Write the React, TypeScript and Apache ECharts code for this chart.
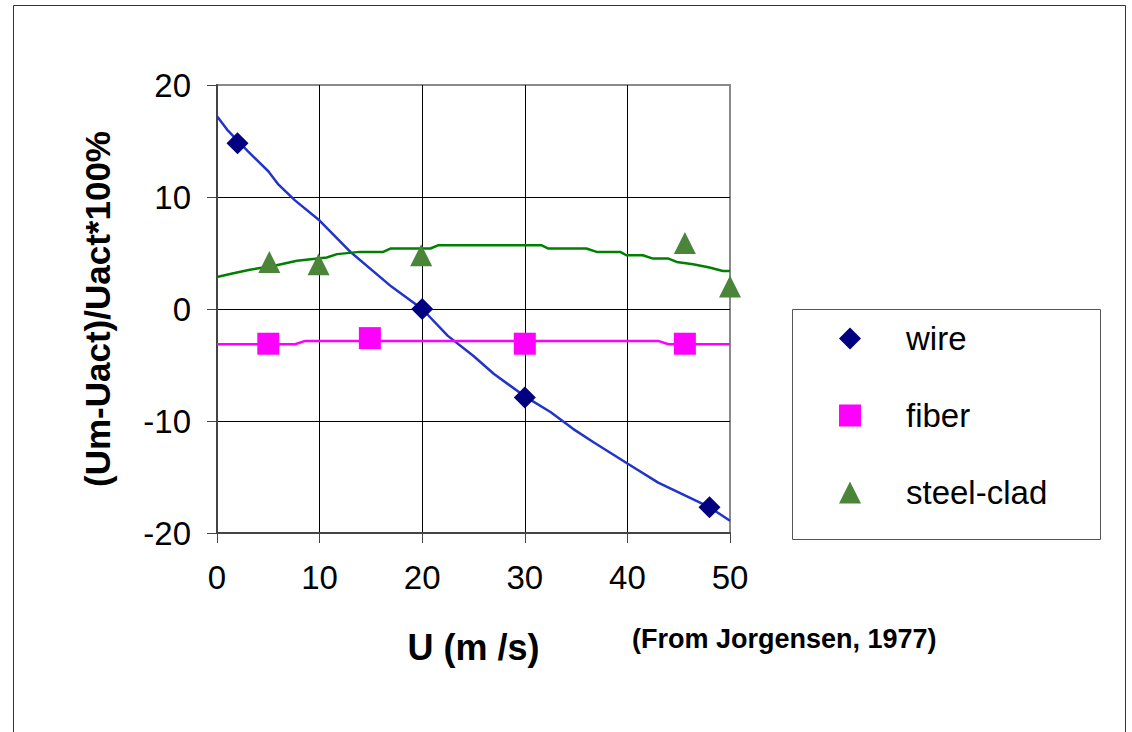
import React, { useEffect, useRef } from "react";
import * as echarts from "echarts";

// wire: measured points and fitted curve
const wirePoints: [number, number][] = [
  [2, 14.8],
  [20, 0],
  [30, -7.9],
  [48, -17.7],
];
const wireCurve: [number, number][] = [
  [0, 17.2], [1, 16.0], [3, 14.1], [5, 12.3], [6, 11.1], [7.6, 9.7],
  [10, 7.9], [13, 5.1], [17, 2.0], [20, 0], [22.5, -2.4], [25, -4.2],
  [27, -5.8], [30, -7.8], [32.5, -9.2], [34.7, -10.7], [36.7, -11.9],
  [40, -13.8], [43, -15.5], [45.5, -16.6], [48, -17.7], [50, -18.9],
];

// fiber: measured points and fitted curve
const fiberPoints: [number, number][] = [
  [5, -3.1],
  [14.9, -2.6],
  [30, -3.1],
  [45.6, -3.1],
];
const fiberCurve: [number, number][] = [
  [0, -3.15], [7.6, -3.15], [8.6, -2.85], [43, -2.85], [44, -3.15], [50, -3.15],
];

// steel-clad: measured points and fitted curve
const steelPoints: [number, number][] = [
  [5.1, 4.2],
  [9.9, 4.0],
  [19.9, 4.8],
  [45.6, 5.9],
  [50, 2.0],
];
const steelCurve: [number, number][] = [
  [0, 2.85], [1.6, 3.2], [3.2, 3.5], [5.8, 3.9], [7.8, 4.3], [10.7, 4.6],
  [11.7, 4.9], [13.9, 5.1], [16.2, 5.1], [16.9, 5.4], [20.8, 5.4], [21.6, 5.7],
  [31.6, 5.7], [32.3, 5.4], [36, 5.4], [37, 5.1], [39.3, 5.1], [39.9, 4.8],
  [41.5, 4.8], [42.5, 4.5], [44, 4.5], [44.8, 4.2], [46.4, 4.0], [48, 3.7],
  [49.3, 3.4], [50, 3.4],
];

const xTicks = { min: 0, max: 50, interval: 10 };
const yTicks = { min: -20, max: 20, interval: 10 };

const legendNames = ["wire", "fiber", "steel-clad"];

const FONT = 'Arial, "Liberation Sans", sans-serif';

export default function App() {
  const ref = useRef<HTMLDivElement>(null);

  useEffect(() => {
    if (!ref.current) return;
    const chart = echarts.init(ref.current, null, { renderer: "svg" });
    chart.setOption({
      animation: false,
      backgroundColor: "#fff",
      textStyle: { fontFamily: FONT },
      grid: {
        left: 217,
        top: 85,
        width: 513,
        height: 448,
        show: true,
        borderColor: "#8a8a8a",
        borderWidth: 2,
        backgroundColor: "transparent",
      },
      xAxis: {
        type: "value",
        min: xTicks.min,
        max: xTicks.max,
        interval: xTicks.interval,
        name: "U (m /s)",
        nameLocation: "middle",
        nameGap: 96,
        nameTextStyle: { fontSize: 36, fontWeight: "bold", color: "#000", fontFamily: FONT },
        axisLine: { show: true, onZero: false, lineStyle: { color: "#444", width: 2 } },
        axisTick: { show: true, length: 10, lineStyle: { color: "#444", width: 1 } },
        axisLabel: { fontSize: 33, color: "#000", margin: 28, fontFamily: FONT },
        splitLine: {
          show: true,
          showMinLine: false,
          showMaxLine: false,
          lineStyle: { color: "#000", width: 1 },
        },
      },
      yAxis: {
        type: "value",
        min: yTicks.min,
        max: yTicks.max,
        interval: yTicks.interval,
        name: "(Um-Uact)/Uact*100%",
        nameLocation: "middle",
        nameRotate: 90,
        nameGap: 102,
        nameTextStyle: { fontSize: 35, fontWeight: "bold", color: "#000", fontFamily: FONT },
        axisLine: { show: true, onZero: false, lineStyle: { color: "#444", width: 2 } },
        axisTick: { show: true, length: 10, lineStyle: { color: "#444", width: 1 } },
        axisLabel: { fontSize: 33, color: "#000", margin: 26, fontFamily: FONT },
        splitLine: {
          show: true,
          showMinLine: false,
          showMaxLine: false,
          lineStyle: { color: "#000", width: 1 },
        },
      },
      legend: {
        orient: "vertical",
        left: 839,
        top: 322,
        padding: 0,
        itemWidth: 22,
        itemHeight: 22,
        itemGap: 44,
        selectedMode: false,
        data: [
          { name: legendNames[0], icon: "diamond" },
          { name: legendNames[1], icon: "rect" },
          { name: legendNames[2], icon: "triangle" },
        ],
        itemStyle: { opacity: 1 },
        textStyle: {
          fontSize: 33,
          color: "#000",
          padding: [0, 0, 0, 40],
          fontFamily: FONT,
        },
      },
      graphic: [
        {
          type: "rect",
          shape: { x: 13.5, y: 5.5, width: 1112, height: 800 },
          style: { fill: "none", stroke: "#333", lineWidth: 1 },
          silent: true,
          z: -1,
        },
        {
          type: "rect",
          shape: { x: 792.5, y: 309.5, width: 308, height: 230 },
          style: { fill: "none", stroke: "#555", lineWidth: 1 },
          silent: true,
        },
        {
          type: "text",
          x: 632,
          y: 639,
          style: {
            text: "(From Jorgensen, 1977)",
            font: `bold 27px ${FONT}`,
            fill: "#000",
            verticalAlign: "middle",
            align: "left",
          },
        },
      ],
      series: [
        {
          name: "wire-fit",
          type: "line",
          data: wireCurve,
          showSymbol: false,
          symbol: "none",
          lineStyle: { color: "#2233CC", width: 2.5 },
          z: 2,
        },
        {
          name: "fiber-fit",
          type: "line",
          data: fiberCurve,
          showSymbol: false,
          symbol: "none",
          lineStyle: { color: "#FF00FF", width: 2.5 },
          z: 2,
        },
        {
          name: "steel-fit",
          type: "line",
          data: steelCurve,
          showSymbol: false,
          symbol: "none",
          lineStyle: { color: "#008000", width: 2.5 },
          z: 2,
        },
        {
          name: legendNames[0],
          type: "scatter",
          data: wirePoints,
          symbol: "diamond",
          symbolSize: 22,
          itemStyle: { color: "#000080", opacity: 1 },
          z: 3,
        },
        {
          name: legendNames[1],
          type: "scatter",
          data: fiberPoints,
          symbol: "rect",
          symbolSize: 22,
          itemStyle: { color: "#FF00FF", opacity: 1 },
          z: 3,
        },
        {
          name: legendNames[2],
          type: "scatter",
          data: steelPoints,
          symbol: "triangle",
          symbolSize: 22,
          itemStyle: { color: "#4A8539", opacity: 1 },
          z: 3,
        },
      ],
    });
    return () => chart.dispose();
  }, []);

  return (
    <div
      ref={ref}
      style={{ position: "fixed", left: 0, top: 0, width: 1132, height: 732 }}
    />
  );
}
